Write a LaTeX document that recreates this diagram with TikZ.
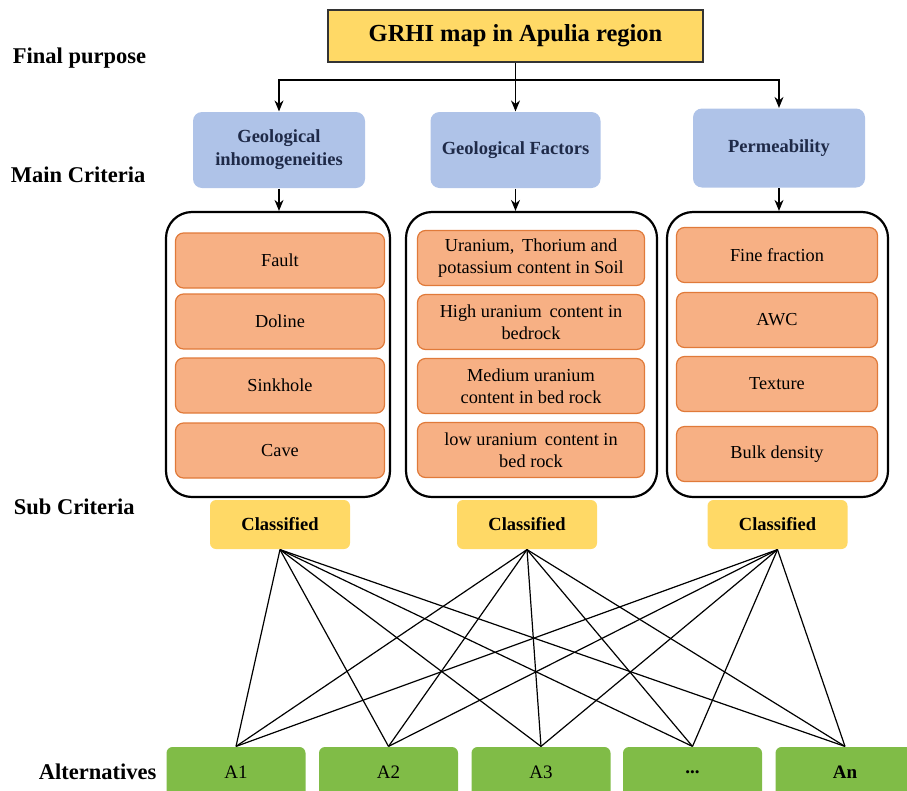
\documentclass[tikz,border=0pt]{standalone}
\usepackage{fontspec}
\setmainfont{Liberation Serif}
\usetikzlibrary{shapes,arrows.meta,positioning}
\definecolor{goldfill}{HTML}{FFD966}
\definecolor{bluefill}{HTML}{AFC3E8}
\definecolor{navytext}{HTML}{1F2A48}
\definecolor{orangefill}{HTML}{F7B084}
\definecolor{orangeline}{HTML}{E07A3A}
\definecolor{greenfill}{HTML}{80BC47}
\tikzstyle{goal} = [rectangle, draw=black!80, line width=1.2pt, fill=goldfill, minimum width=375pt, minimum height=52pt, font=\fontsize{24.5}{28}\selectfont\bfseries]
\tikzstyle{criterion} = [rectangle, rounded corners=9pt, fill=bluefill, text=navytext, align=center, font=\fontsize{18.5}{23}\selectfont\bfseries, minimum height=76pt]
\tikzstyle{group} = [rectangle, rounded corners=26pt, draw, line width=2.2pt, minimum height=285pt]
\tikzstyle{subitem} = [rectangle, rounded corners=8pt, draw=orangeline, line width=1.2pt, fill=orangefill, align=center, font=\fontsize{18.3}{22.5}\selectfont, minimum height=55pt]
\tikzstyle{classbox} = [rectangle, rounded corners=6pt, fill=goldfill, font=\fontsize{18.5}{20}\selectfont\bfseries, minimum width=140pt, minimum height=49pt]
\tikzstyle{alternative} = [rectangle, rounded corners=6pt, fill=greenfill, font=\fontsize{19}{21}\selectfont, minimum width=139pt, minimum height=50pt]
\tikzstyle{level} = [anchor=west, font=\fontsize{22.5}{25}\selectfont\bfseries]

\begin{document}
\begin{tikzpicture}[x=1pt, y=-1pt, >={Stealth[length=11pt, width=9pt]}, line width=1.2pt, node distance=64pt]
   \useasboundingbox (0,0) rectangle (907,790);
   % levels
   \node[level] (lfinal) at (9,58)   {Final purpose};
   \node[level] (lmain)  at (7,175)  {Main Criteria};
   \node[level] (lsub)   at (10,507) {Sub Criteria};
   \node[level] (lalt)   at (35,772) {Alternatives};

   % nodes
   \node[goal] (goal) at (515.5,36) {GRHI map in Apulia region};
   \node[criterion, minimum width=172pt] (geoinh) at (279,150) {Geological\\inhomogeneities};
   \node[criterion, minimum width=170pt] (geofac) at (515.5,150) {Geological Factors};
   \node[criterion, minimum width=172pt, minimum height=79pt] (perm) at (779,148) {Permeability};

   \node[group, minimum width=224pt] (box1) at (278,354.5) {};
   \node[group, minimum width=251pt] (box2) at (531.5,354.5) {};
   \node[group, minimum width=221pt] (box3) at (777.5,354.5) {};

   \node[subitem, minimum width=209pt] (fault) at (280,260.5) {Fault};
   \node[subitem, minimum width=209pt] (doline) [below of=fault, node distance=61pt] {Doline};
   \node[subitem, minimum width=209pt] (sink) [below of=doline] {Sinkhole};
   \node[subitem, minimum width=209pt] (cave) [below of=sink, node distance=65pt] {Cave};

   \node[subitem, minimum width=227pt] (utk) at (531,258) {Uranium,\, Thorium and\\potassium content in Soil};
   \node[subitem, minimum width=227pt] (high) [below of=utk] {High uranium\, content in\\bedrock};
   \node[subitem, minimum width=227pt] (medium) [below of=high] {Medium uranium\\content in bed rock};
   \node[subitem, minimum width=227pt] (low) [below of=medium] {low uranium\, content in\\bed rock};

   \node[subitem, minimum width=201pt] (fine) at (777,255) {Fine fraction};
   \node[subitem, minimum width=201pt] (awc) [below of=fine, node distance=65pt] {AWC};
   \node[subitem, minimum width=201pt] (tex) [below of=awc] {Texture};
   \node[subitem, minimum width=201pt] (bulk) [below of=tex, node distance=70pt] {Bulk density};

   \node[classbox] (cl1) at (280,524.5) {Classified};
   \node[classbox] (cl2) at (527,524.5) {Classified};
   \node[classbox] (cl3) at (777.5,524.5) {Classified};

   \node[alternative] (a1) at (236,772) {A1};
   \node[alternative] (a2) at (388.5,772) {A2};
   \node[alternative] (a3) at (541,772) {A3};
   \node[alternative] (adots) at (692.5,772) {\textbf{...}};
   \node[alternative] (an) at (845,772) {\textbf{An}};

   % edges
   \coordinate (split) at (515.5,80);
   \draw (goal.south) -- (split);
   \draw[->] (split) -| (geoinh.north);
   \draw[->] (split) -- (geofac.north);
   \draw[->] (split) -| (perm.north);
   \draw[->] (geoinh.south) -- (geoinh.south |- box1.north);
   \draw[->] (geofac.south) -- (geofac.south |- box2.north);
   \draw[->] (perm.south) -- (perm.south |- box3.north);
   \foreach \c in {cl1,cl2,cl3}
      \foreach \a in {a1,a2,a3,adots,an}
         \draw (\c.south) -- (\a.north);
\end{tikzpicture}
\end{document}
